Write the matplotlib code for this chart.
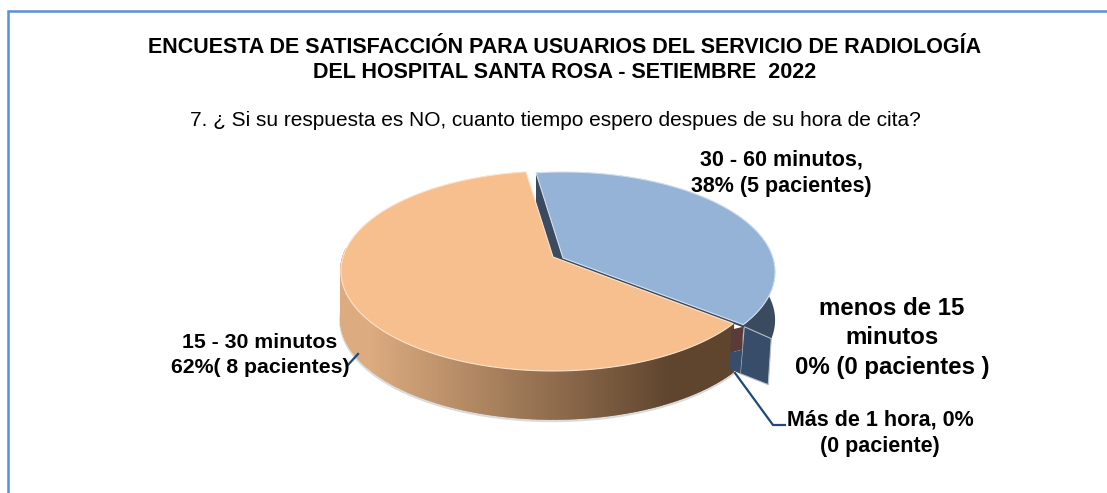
import matplotlib
matplotlib.use("Agg")
import matplotlib.pyplot as plt
import numpy as np

plt.rcParams['font.family'] = ['Liberation Sans', 'DejaVu Sans']

# datos de la encuesta
categorias = ['menos de 15 minutos', '15 - 30 minutos', '30 - 60 minutos', 'Más de 1 hora']
porcentajes = [0, 62, 38, 0]
pacientes = [0, 8, 5, 0]

titulo = "ENCUESTA DE SATISFACCIÓN PARA USUARIOS DEL SERVICIO DE RADIOLOGÍA\nDEL HOSPITAL SANTA ROSA - SETIEMBRE  2022"
subtitulo = "7. ¿ Si su respuesta es NO, cuanto tiempo espero despues de su hora de cita?"

# geometria del pastel, en pixeles
R = 210.0
RY = 98.0
K = 0.14
ALTO = 48.0
INICIO = -8.4  # grados, horario desde arriba, inicio de la porcion azul


def borde(cx, cy, grados):
    t = np.radians(grados)
    u, v = np.sin(t), -np.cos(t)
    d = 1 - K * v
    return cx + R * u / d, cy + RY * v / d


fig = plt.figure(figsize=(11.07, 4.93), dpi=100)
ax = fig.add_axes([0, 0, 1, 1])
ax.set_xlim(0, 1107)
ax.set_ylim(493, 0)
ax.axis('off')

# marco
ax.plot([8, 8, 1107], [493, 11, 11], color='#5b8fd6', lw=1.8, solid_joinstyle='miter', zorder=1)

# angulos de cada porcion a partir de los porcentajes
azul_fin = INICIO + porcentajes[2] * 3.6
naranja_fin = azul_fin + porcentajes[1] * 3.6
centro_azul = (563.0, 258.0)
centro_naranja = (553.0, 257.0)

t_azul = np.linspace(INICIO, azul_fin, 200)
t_naranja = np.linspace(azul_fin, naranja_fin, 400)
xa, ya = borde(*centro_azul, t_azul)
xn, yn = borde(*centro_naranja, t_naranja)

# cara de corte izquierda de la porcion azul
ax.fill([xa[0], centro_azul[0], centro_azul[0], xa[0]],
        [ya[0], centro_azul[1], centro_azul[1] + ALTO, ya[0] + ALTO],
        color='#3b4b60', lw=0, zorder=2)

# lateral azul
ax.fill(np.r_[xa, xa[::-1]], np.r_[ya, ya[::-1] + ALTO], color='#3a4a5f', lw=0, zorder=2)

# porciones de 0% sueltas junto al borde
fx, fy = xa[-1], ya[-1]
ax.fill([fx + 1, fx + 28, fx + 25, fx - 3], [fy + 2, fy + 14, fy + 60, fy + 49],
        color='#374d69', ec='#b8c0c8', lw=0.8, zorder=3)

# banda oscura entre las dos porciones
gx, gy = xn[0], yn[0]
ax.fill([centro_azul[0], fx, gx, centro_naranja[0] + 10],
        [centro_azul[1], fy, gy, centro_naranja[1] + 3], color='#5b3a3a', lw=0, zorder=3)
ax.plot([centro_azul[0], fx], [centro_azul[1] + 1.5, fy + 1.5], color='#3a4a5f', lw=1.6, zorder=3)

# sombra debajo del lateral
rango = t_naranja[t_naranja < 275]
xs, ys = borde(*centro_naranja, rango)
ax.plot(xs, ys + ALTO + 1.5, color='#888888', lw=2.5, alpha=0.3, zorder=3)

# lateral naranja con degradado
claro = np.array(matplotlib.colors.to_rgb('#dcab7f'))
oscuro = np.array(matplotlib.colors.to_rgb('#5f452e'))
for a, b in zip(rango[:-1], rango[1:]):
    x0, y0 = borde(*centro_naranja, a)
    x1, y1 = borde(*centro_naranja, b)
    f = np.clip((x0 - 370) / (670 - 370), 0, 1)
    ax.fill([x0, x1, x1, x0], [y0, y1, y1 + ALTO, y0 + ALTO], color=claro + (oscuro - claro) * f,
            lw=1.2, zorder=4)

# tapas de las porciones de 0%
ax.fill([fx - 12, fx, fx - 1, fx - 13], [fy + 5, fy + 2, fy + 25, fy + 28], color='#5b3a3a', lw=0, zorder=4.5)
ax.fill([fx - 13, fx - 1, fx - 3, fx - 14], [fy + 28, fy + 25, fy + 49, fy + 44], color='#374d69', lw=0, zorder=4.5)

# caras superiores
ax.fill(np.r_[centro_naranja[0], xn], np.r_[centro_naranja[1], yn], color='#f7bf8e', ec='#fbe3cd', lw=0.8, zorder=5)
ax.fill(np.r_[centro_azul[0], xa], np.r_[centro_azul[1], ya], color='#95b3d7', ec='#d5e0ee', lw=0.8, zorder=5)

# lineas guia
ax.plot([347, 358], [366, 354], color='#1f497d', lw=1.6, zorder=6)
ax.plot([735, 773, 785], [373, 425, 425], color='#1f497d', lw=1.6, zorder=6)

# textos
ax.text(565, 60, titulo, ha='center', va='center', fontsize=15.5, fontweight='bold', color='black', linespacing=1.19, zorder=7)
ax.text(555, 121, subtitulo, ha='center', va='center', fontsize=15, color='black', zorder=7)

etiq = dict(ha='center', va='center', fontweight='bold', color='black', zorder=7)
ax.text(781, 173, f"{categorias[2]},\n{porcentajes[2]}% ({pacientes[2]} pacientes)", fontsize=15.5, linespacing=1.36, **etiq)
ax.text(260, 355, f"{categorias[1]}\n{porcentajes[1]}%( {pacientes[1]} pacientes)", fontsize=15.3, linespacing=1.36, **etiq)
ax.text(892, 338, f"menos de 15\nminutos\n{porcentajes[0]}% ({pacientes[0]} pacientes )", fontsize=17.3, linespacing=1.34, **etiq)
ax.text(880, 433, f"{categorias[3]}, {porcentajes[3]}%\n({pacientes[3]} paciente)", fontsize=15.5, linespacing=1.36, **etiq)

fig.savefig('out.png', dpi=100)
